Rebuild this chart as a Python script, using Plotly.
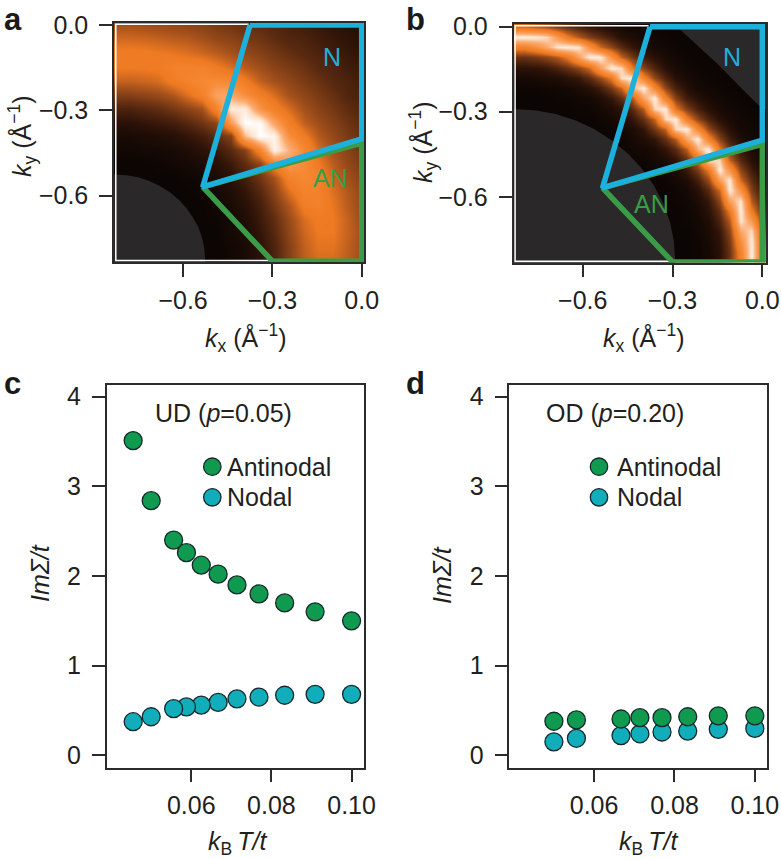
import numpy as np
import plotly.graph_objects as go

W, H = 781, 859

# intensity, row 0 is ky=-0.83, last row is ky=0
map_a = [
    [0, 0, 0, 0, 0, 0, 0, 0, 2, 4, 9, 17, 28, 38, 43, 43, 38, 32],
    [0, 0, 0, 0, 0, 0, 0, 0, 2, 4, 9, 17, 28, 39, 45, 45, 39, 33],
    [0, 0, 0, 0, 0, 0, 0, 0, 3, 5, 11, 19, 30, 41, 47, 47, 40, 33],
    [0, 0, 0, 0, 0, 0, 0, 1, 3, 6, 13, 21, 32, 43, 49, 47, 40, 32],
    [0, 0, 0, 0, 0, 0, 0, 2, 4, 8, 15, 25, 36, 50, 53, 46, 38, 31],
    [0, 0, 0, 0, 0, 0, 1, 3, 6, 11, 19, 29, 44, 54, 53, 44, 37, 30],
    [0, 0, 0, 0, 0, 1, 2, 5, 9, 15, 24, 34, 53, 59, 53, 41, 34, 28],
    [0, 0, 0, 1, 2, 3, 5, 8, 13, 21, 30, 53, 68, 60, 48, 38, 31, 26],
    [2, 2, 3, 3, 4, 6, 9, 13, 20, 29, 56, 96, 78, 58, 43, 34, 29, 24],
    [4, 4, 5, 6, 8, 11, 15, 21, 29, 80, 100, 95, 62, 49, 37, 31, 26, 22],
    [9, 9, 11, 13, 15, 19, 24, 30, 70, 100, 98, 72, 51, 39, 33, 28, 24, 20],
    [17, 17, 19, 21, 25, 29, 34, 55, 92, 92, 65, 52, 43, 34, 29, 25, 21, 18],
    [28, 28, 30, 32, 36, 44, 53, 72, 74, 62, 51, 43, 34, 30, 26, 22, 18, 16],
    [40, 40, 41, 43, 50, 54, 59, 60, 58, 49, 39, 34, 30, 26, 23, 19, 17, 14],
    [48, 48, 48, 49, 53, 53, 53, 48, 43, 37, 33, 29, 26, 23, 19, 17, 14, 12],
    [49, 49, 49, 47, 46, 44, 41, 38, 34, 31, 28, 25, 22, 19, 17, 14, 12, 10],
    [42, 42, 41, 40, 38, 37, 34, 31, 29, 26, 24, 21, 18, 17, 14, 12, 10, 8],
    [34, 34, 33, 32, 31, 30, 28, 26, 24, 22, 20, 18, 16, 14, 12, 10, 8, 7],
]

# intensity, same orientation
map_b = [
    [0, 0, 0, 0, 0, 0, 0, 0, 0, 0, 0, 0, 0, 0, 0, 0, 0, 1, 3, 9, 23, 53, 93, 43],
    [0, 0, 0, 0, 0, 0, 0, 0, 0, 0, 0, 0, 0, 0, 0, 0, 0, 1, 3, 9, 23, 54, 93, 43],
    [0, 0, 0, 0, 0, 0, 0, 0, 0, 0, 0, 0, 0, 0, 0, 0, 0, 1, 4, 10, 26, 62, 92, 39],
    [0, 0, 0, 0, 0, 0, 0, 0, 0, 0, 0, 0, 0, 0, 0, 0, 0, 2, 5, 12, 30, 74, 87, 35],
    [0, 0, 0, 0, 0, 0, 0, 0, 0, 0, 0, 0, 0, 0, 0, 0, 1, 2, 6, 17, 37, 90, 68, 28],
    [0, 0, 0, 0, 0, 0, 0, 0, 0, 0, 0, 0, 0, 0, 0, 0, 1, 3, 9, 22, 48, 93, 49, 22],
    [0, 0, 0, 0, 0, 0, 0, 0, 0, 0, 0, 0, 0, 0, 0, 1, 2, 5, 12, 30, 71, 90, 37, 17],
    [0, 0, 0, 0, 0, 0, 0, 0, 0, 0, 0, 0, 0, 0, 0, 1, 3, 8, 20, 42, 93, 63, 27, 12],
    [0, 0, 0, 0, 0, 0, 0, 0, 0, 0, 0, 0, 0, 0, 1, 3, 6, 15, 32, 70, 92, 41, 21, 8],
    [0, 0, 0, 0, 0, 0, 0, 0, 0, 0, 0, 0, 0, 1, 3, 5, 12, 26, 48, 93, 64, 30, 14, 5],
    [0, 0, 0, 0, 0, 0, 0, 0, 0, 0, 0, 1, 1, 3, 5, 10, 21, 41, 88, 86, 39, 19, 8, 3],
    [0, 0, 0, 0, 0, 0, 0, 0, 0, 0, 1, 2, 3, 5, 11, 20, 38, 77, 93, 47, 25, 11, 5, 2],
    [0, 0, 0, 0, 0, 0, 0, 0, 0, 0, 1, 3, 6, 11, 22, 37, 73, 93, 54, 29, 14, 6, 3, 1],
    [0, 0, 0, 0, 0, 0, 0, 0, 0, 1, 3, 5, 11, 25, 40, 86, 93, 58, 31, 17, 8, 3, 2, 1],
    [0, 0, 0, 0, 0, 0, 0, 0, 1, 3, 5, 11, 22, 40, 87, 92, 52, 30, 17, 8, 4, 2, 1, 0],
    [0, 0, 0, 0, 0, 0, 1, 1, 3, 5, 10, 20, 37, 86, 92, 47, 28, 16, 8, 4, 2, 1, 0, 0],
    [0, 0, 0, 0, 1, 1, 2, 3, 6, 12, 21, 38, 73, 93, 52, 28, 14, 8, 4, 2, 1, 0, 0, 0],
    [1, 1, 1, 2, 2, 3, 5, 8, 15, 26, 41, 77, 93, 58, 30, 16, 8, 3, 2, 1, 0, 0, 0, 0],
    [3, 3, 4, 5, 6, 9, 12, 20, 32, 48, 88, 93, 54, 31, 17, 8, 4, 2, 1, 0, 0, 0, 0, 0],
    [9, 9, 10, 12, 17, 22, 30, 42, 70, 93, 86, 47, 29, 17, 8, 4, 2, 1, 0, 0, 0, 0, 0, 0],
    [23, 23, 26, 30, 37, 48, 71, 93, 92, 64, 39, 25, 14, 8, 4, 2, 1, 0, 0, 0, 0, 0, 0, 0],
    [53, 54, 62, 74, 90, 93, 90, 63, 41, 30, 19, 11, 6, 3, 2, 1, 0, 0, 0, 0, 0, 0, 0, 0],
    [93, 93, 92, 87, 68, 49, 37, 27, 21, 14, 8, 5, 3, 2, 1, 0, 0, 0, 0, 0, 0, 0, 0, 0],
    [43, 43, 39, 35, 28, 22, 17, 12, 8, 5, 3, 2, 1, 1, 0, 0, 0, 0, 0, 0, 0, 0, 0, 0],
]

# grey (no data) regions
mask_a_x = [-0.84, -0.83, -0.790, -0.751, -0.713, -0.678, -0.644, -0.614, -0.588, -0.566, -0.548, -0.535, -0.528, -0.525, -0.525, -0.84]
mask_a_y = [-0.525, -0.525, -0.528, -0.535, -0.548, -0.566, -0.588, -0.614, -0.644, -0.678, -0.713, -0.751, -0.790, -0.83, -0.84, -0.84]
mask_b_x = [-0.84, -0.83, -0.760, -0.690, -0.623, -0.560, -0.501, -0.448, -0.402, -0.362, -0.331, -0.308, -0.295, -0.29, -0.29, -0.84]
mask_b_y = [-0.29, -0.29, -0.295, -0.308, -0.331, -0.362, -0.402, -0.448, -0.501, -0.56, -0.623, -0.69, -0.760, -0.83, -0.84, -0.84]
corner_b_x = [-0.285, -0.152, -0.063, -0.008, 0.012, 0.012, -0.285]
corner_b_y = [0.0, -0.129, -0.224, -0.282, -0.29, 0.01, 0.01]

# nodal / antinodal zones
node_x = [-0.375, 0.0, 0.0, -0.534, -0.375]
node_y = [0.0, 0.0, -0.40, -0.569, 0.0]
anti_x = [-0.534, 0.0, 0.0, -0.30, -0.534]
anti_y = [-0.569, -0.415, -0.83, -0.83, -0.569]

ud_t = [0.1, 0.0909, 0.0833, 0.0769, 0.0714, 0.0667, 0.0625, 0.0588, 0.0556, 0.05, 0.0455]
ud_anti = [1.50, 1.60, 1.70, 1.80, 1.90, 2.02, 2.12, 2.26, 2.40, 2.84, 3.51]
ud_node = [0.68, 0.68, 0.67, 0.65, 0.63, 0.59, 0.56, 0.54, 0.52, 0.43, 0.375]

od_t = [0.1, 0.0909, 0.0833, 0.0769, 0.0714, 0.0667, 0.0556, 0.05]
od_anti = [0.44, 0.44, 0.43, 0.42, 0.42, 0.405, 0.395, 0.38]
od_node = [0.30, 0.29, 0.27, 0.26, 0.24, 0.22, 0.19, 0.15]

FONT = 'Liberation Sans'
INK = '#2b2b2b'
CYAN = '#1cb1dc'
GREEN = '#3b9c48'
GREY = '#2b2829'
DOT_GREEN = '#0f9a50'
DOT_TEAL = '#12adba'
HEAT = [
    [0.0, '#0b0503'], [0.10, '#2e1308'], [0.20, '#5a2a10'], [0.35, '#a9531c'],
    [0.47, '#ee7a22'], [0.60, '#f78a35'], [0.76, '#fbab70'], [0.88, '#fde0c8'], [1.0, '#ffffff'],
]

fig = go.Figure()


def px_x(p):
    return p / W


def px_y(p):
    return 1 - p / H


def add_map(n, z, masks):
    x = np.linspace(-0.83, 0, len(z[0]))
    y = np.linspace(-0.83, 0, len(z))
    ax = dict(xaxis='x%d' % n, yaxis='y%d' % n)
    fig.add_trace(go.Heatmap(x=x, y=y, z=z, zmin=0, zmax=100, zsmooth='best',
                             colorscale=HEAT, showscale=False, hoverinfo='skip', **ax))
    for mx, my in masks:
        fig.add_trace(go.Scatter(x=mx, y=my, mode='lines', fill='toself', fillcolor=GREY,
                                 line=dict(width=0), hoverinfo='skip', showlegend=False, **ax))
    # thin white edge between the map and the frame
    fig.add_trace(go.Scatter(x=[-0.38, -0.826, -0.826, -0.30], y=[0.003, 0.003, -0.828, -0.828],
                             mode='lines', line=dict(color='white', width=1.5), hoverinfo='skip',
                             showlegend=False, **ax))
    fig.add_trace(go.Scatter(x=anti_x, y=anti_y, mode='lines', line=dict(color=GREEN, width=5.5),
                             cliponaxis=False, showlegend=False, **ax))
    fig.add_trace(go.Scatter(x=node_x, y=node_y, mode='lines', line=dict(color=CYAN, width=5.5),
                             cliponaxis=False, showlegend=False, **ax))


def add_dots(n, t, node, anti):
    ax = dict(xaxis='x%d' % n, yaxis='y%d' % n)
    for vals, col, name in [(node, DOT_TEAL, 'Nodal'), (anti, DOT_GREEN, 'Antinodal')]:
        fig.add_trace(go.Scatter(x=t, y=vals, mode='markers', name=name, showlegend=False,
                                 marker=dict(color=col, size=18, line=dict(color='#14282a', width=1.3)),
                                 **ax))


def set_axes(n, box, xr, yr, xticks, yticks, xfmt, yfmt):
    left, right, top, bottom = box
    base = dict(showgrid=False, zeroline=False, showline=True, linecolor=INK, linewidth=1.5,
                mirror=True, ticks='outside', ticklen=13, tickwidth=1.5, tickcolor=INK, automargin=False,
                tickfont=dict(family=FONT, size=25, color='#231f20'))
    fig.update_layout({
        'xaxis%d' % n: dict(base, domain=[px_x(left), px_x(right)], range=xr, tickvals=xticks,
                            tickformat=xfmt, anchor='y%d' % n, ticklabelstandoff=2),
        'yaxis%d' % n: dict(base, domain=[px_y(bottom), px_y(top)], range=yr, tickvals=yticks,
                            tickformat=yfmt, anchor='x%d' % n, ticklabelstandoff=6),
    })


def text(x, y, s, size=25, color='#231f20', angle=0, anchor='center'):
    fig.add_annotation(xref='paper', yref='paper', x=px_x(x), y=px_y(y), text=s, showarrow=False,
                       xanchor=anchor, yanchor='middle', textangle=angle,
                       font=dict(family=FONT, size=size, color=color))


def legend_key(cx, cy, color):
    fig.add_shape(type='circle', xref='paper', yref='paper', xsizemode='pixel', ysizemode='pixel',
                  xanchor=px_x(cx), yanchor=px_y(cy), x0=-8.7, x1=8.7, y0=-8.7, y1=8.7,
                  fillcolor=color, line=dict(color='#14282a', width=1.3))


add_map(1, map_a, [(mask_a_x, mask_a_y)])
add_map(2, map_b, [(mask_b_x, mask_b_y), (corner_b_x, corner_b_y)])
add_dots(3, ud_t, ud_node, ud_anti)
add_dots(4, od_t, od_node, od_anti)

k_ticks = [-0.6, -0.3, 0.0]
set_axes(1, (114, 364, 22.7, 262.3), [-0.832, 0.0077], [-0.834, 0.0081], k_ticks, k_ticks, '.1f', '.1f')
set_axes(2, (513.5, 766, 24, 262.5), [-0.8313, 0.0124], [-0.832, 0.0095], k_ticks, k_ticks, '.1f', '.1f')
set_axes(3, (106.7, 364, 384.7, 767.7), [0.0389, 0.1031], [-0.138, 4.133], [0.06, 0.08, 0.10], [0, 1, 2, 3, 4], '.2f', 'd')
set_axes(4, (509.3, 767.3, 384.7, 767.7), [0.0389, 0.1031], [-0.138, 4.133], [0.06, 0.08, 0.10], [0, 1, 2, 3, 4], '.2f', 'd')

k_x = '<i>k</i><sub>x</sub> (Å<sup>−1</sup>)'
k_y = '<i>k</i><sub>y</sub> (Å<sup>−1</sup>)'
text(245, 338, k_x)
text(643, 338, k_x)
text(22, 137, k_y, angle=-90)
text(423, 143, k_y, angle=-90)
text(40, 573, '<i>Im\u03a3/t</i>', angle=-90)
text(442, 575, '<i>Im\u03a3/t</i>', angle=-90)
text(237, 843, '<i>k</i><sub>B</sub>\u2009<i>T/t</i>')
text(648, 843, '<i>k</i><sub>B</sub>\u2009<i>T/t</i>')

for x, y, s in [(1.5, 20, 'a'), (403.5, 20, 'b'), (1.5, 384, 'c'), (403.5, 384, 'd')]:
    text(x, y, '<b>%s</b>' % s, size=31, color='#1a1a1a', anchor='left')

text(332, 57, 'N', color=CYAN)
text(330, 178, 'AN', color=GREEN)
text(732, 57, 'N', color=CYAN)
text(651, 204, 'AN', color=GREEN)

text(152.5, 413, 'UD (<i>p</i>=0.05)', anchor='left')
text(544.2, 413, 'OD (<i>p</i>=0.20)', anchor='left')

legend_key(212.3, 466.7, DOT_GREEN)
legend_key(212.3, 497.3, DOT_TEAL)
text(225.2, 466.7, 'Antinodal', anchor='left')
text(225.2, 497.3, 'Nodal', anchor='left')
legend_key(599, 466.7, DOT_GREEN)
legend_key(599, 497.3, DOT_TEAL)
text(614.8, 466.7, 'Antinodal', anchor='left')
text(614.8, 497.3, 'Nodal', anchor='left')

fig.update_layout(width=W, height=H, autosize=False, margin=dict(l=0, r=0, t=0, b=0),
                  paper_bgcolor='white', plot_bgcolor='white', showlegend=False)

fig.write_html("out.html", config=dict(displayModeBar=False),
               post_script="document.body.style.margin='0';")
